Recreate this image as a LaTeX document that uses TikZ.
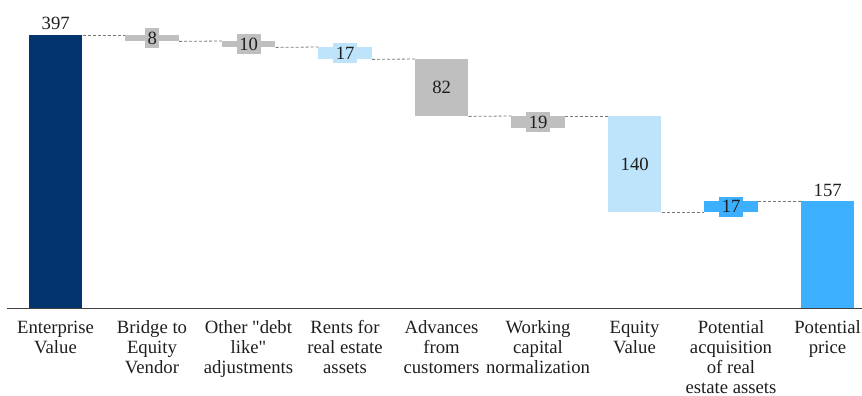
\documentclass[tikz,border=0pt]{standalone}
\usepackage{fontspec}
\setmainfont{Liberation Serif}
\definecolor{navy}{RGB}{3,52,110}
\definecolor{barg}{RGB}{191,191,191}
\definecolor{lblue}{RGB}{190,228,252}
\definecolor{bblue}{RGB}{60,176,255}
\definecolor{txt}{RGB}{30,30,30}
\definecolor{axisc}{RGB}{64,64,64}
\definecolor{dashc}{RGB}{120,120,120}
\begin{document}
\begin{tikzpicture}[x=1pt,y=-1pt,
  bar/.style={rectangle,inner sep=0pt,minimum width=53.5pt,anchor=north west,draw=none},
  val/.style={rectangle,inner xsep=2.5pt,inner ysep=0pt,minimum height=20pt,text=txt,font=\fontsize{18.7}{20}\selectfont},
  top/.style={anchor=base,inner sep=0pt,text=txt,font=\fontsize{18.7}{20}\selectfont},
  cat/.style={anchor=north,align=center,inner sep=0pt,text=txt,font=\fontsize{18.7}{20}\selectfont},
  conn/.style={draw=dashc,line width=0.8pt,dash pattern=on 3pt off 2pt}]
\useasboundingbox (0,0) rectangle (862,396);
% bars
\node[bar,fill=navy,minimum height=273pt] (b1) at (28.75,35) {};
\node[bar,fill=barg,minimum height=6pt] (b2) at (125.25,35) {};
\node[bar,fill=barg,minimum height=6pt] (b3) at (221.75,41) {};
\node[bar,fill=lblue,minimum height=12pt] (b4) at (318.25,47) {};
\node[bar,fill=barg,minimum height=57pt] (b5) at (414.75,59) {};
\node[bar,fill=barg,minimum height=12pt] (b6) at (511.25,116) {};
\node[bar,fill=lblue,minimum height=96pt] (b7) at (607.75,116) {};
\node[bar,fill=bblue,minimum height=11pt] (b8) at (704.25,201) {};
\node[bar,fill=bblue,minimum height=107pt] (b9) at (800.75,201) {};
% axis
\coordinate (axl) at (7,308.5);
\coordinate (axr) at (862,308.5);
\draw[axisc,line width=1.2pt] (axl) -- (axr);
% connectors
\draw[conn] (b1.north east) -- (b2.north west);
\draw[conn] (b2.south east) -- (b3.north west);
\draw[conn] (b3.south east) -- (b4.north west);
\draw[conn] (b4.south east) -- (b5.north west);
\draw[conn] (b5.south east) -- (b6.north west);
\draw[conn] (b6.north east) -- (b7.north west);
\draw[conn] (b7.south east) -- (b8.south west);
\draw[conn] (b8.north east) -- (b9.north west);
% values
\node[top] (v1) at ([yshift=5pt]b1.north) {397};
\node[val,fill=barg] (v2) at (b2.center) {8};
\node[val,fill=barg] (v3) at (b3.center) {10};
\node[val,fill=lblue] (v4) at (b4.center) {17};
\node[val,fill=barg] (v5) at (b5.center) {82};
\node[val,fill=barg] (v6) at (b6.center) {19};
\node[val,fill=lblue] (v7) at (b7.center) {140};
\node[val,fill=bblue] (v8) at (b8.center) {17};
\node[top] (v9) at ([yshift=5pt]b9.north) {157};
% categories
\node[cat] (c1) at (55.5,319) {\strut Enterprise\\Value};
\node[cat] (c2) at (152,319) {\strut Bridge to\\Equity\\Vendor};
\node[cat] (c3) at (248.5,319) {\strut Other \textquotedbl debt\\like\textquotedbl\\adjustments};
\node[cat] (c4) at (345,319) {\strut Rents for\\real estate\\assets};
\node[cat] (c5) at (441.5,319) {\strut Advances\\from\\customers};
\node[cat] (c6) at (538,319) {\strut Working\\capital\\normalization};
\node[cat] (c7) at (634.5,319) {\strut Equity\\Value};
\node[cat] (c8) at (731,319) {\strut Potential\\acquisition\\of real\\estate assets};
\node[cat] (c9) at (827.5,319) {\strut Potential\\price};
\end{tikzpicture}
\end{document}
